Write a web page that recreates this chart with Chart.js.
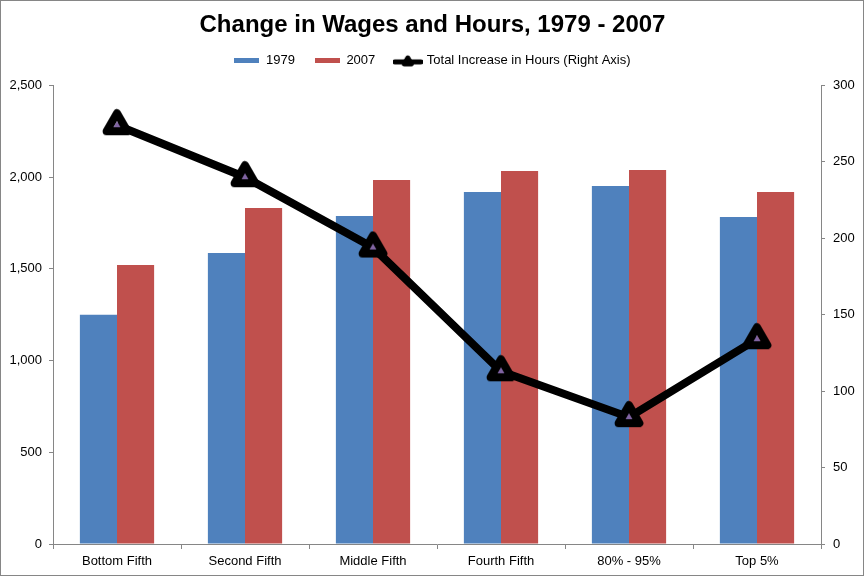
<!DOCTYPE html>
<html>
<head>
<meta charset="utf-8">
<script src="https://cdn.jsdelivr.net/npm/chart.js@4.4.1/dist/chart.umd.min.js"></script>
<style>
  html, body { margin: 0; padding: 0; background: #fff; }
</style>
</head>
<body>
<canvas id="myChart" width="865" height="577"></canvas>
<script>
var categories = ["Bottom Fifth", "Second Fifth", "Middle Fifth", "Fourth Fifth", "80% - 95%", "Top 5%"];
var wages1979 = [1250, 1587, 1788, 1919, 1952, 1783];
var wages2007 = [1521, 1832, 1985, 2034, 2039, 1919];
var hoursIncrease = [274, 240, 194, 113, 83, 134];
var leftTicks = [0, 500, 1000, 1500, 2000, 2500];
var rightTicks = [0, 50, 100, 150, 200, 250, 300];

var font = "'Liberation Sans', Arial, sans-serif";
var axisGray = "#868686";

// small pictures used as point / legend styles
function swatch(color) {
  var c = document.createElement("canvas");
  c.width = 25; c.height = 5;
  var g = c.getContext("2d");
  g.fillStyle = color;
  g.fillRect(0, 0, 25, 5);
  return c;
}
function triangle(size, r, bw, fill) {
  var c = document.createElement("canvas");
  c.width = size; c.height = size;
  var g = c.getContext("2d");
  var cx = size / 2, cy = size / 2;
  g.beginPath();
  for (var i = 0; i < 3; i++) {
    var a = i * 2 * Math.PI / 3;
    var px = cx + Math.sin(a) * r, py = cy - Math.cos(a) * r;
    if (i === 0) g.moveTo(px, py); else g.lineTo(px, py);
  }
  g.closePath();
  g.lineJoin = "round";
  g.lineWidth = bw;
  g.strokeStyle = "#000";
  g.stroke();
  g.fillStyle = fill;
  // inner fill drawn on top so the purple core stays visible
  var k = Math.max(0, (r / 2 - bw / 2)) / (r / 2);
  g.beginPath();
  for (var j = 0; j < 3; j++) {
    var b = j * 2 * Math.PI / 3;
    var qx = cx + Math.sin(b) * r * k, qy = cy - Math.cos(b) * r * k;
    if (j === 0) g.moveTo(qx, qy); else g.lineTo(qx, qy);
  }
  g.closePath();
  g.fill();
  return c;
}
function lineSwatch() {
  var c = document.createElement("canvas");
  c.width = 30; c.height = 14;
  var g = c.getContext("2d");
  g.strokeStyle = "#000";
  g.lineWidth = 5;
  g.lineCap = "round";
  g.beginPath(); g.moveTo(2, 8); g.lineTo(28, 8); g.stroke();
  g.drawImage(triangle(14, 4, 5, "#000"), 8, 1);
  return c;
}
var marker = triangle(34, 12, 8, "#8064A2");
var legendIcons = [swatch("#4F81BD"), swatch("#C0504D"), lineSwatch()];

var frame = {
  id: "frame",
  beforeLayout: function (chart) {
    var lg = chart.legend;
    if (lg && !lg._fixed) {
      var fit = lg.fit;
      lg.fit = function () { fit.call(this); this.height = 51.1; };
      lg._fixed = true;
    }
  },
  afterDraw: function (chart) {
    var g = chart.ctx;
    g.save();
    g.strokeStyle = axisGray;
    g.lineWidth = 1;
    g.strokeRect(0.5, 0.5, chart.width - 2, chart.height - 2);
    g.restore();
  }
};

var chart = document.getElementById("myChart").getContext("2d");
new Chart(chart, {
  type: "bar",
  data: {
    labels: categories,
    datasets: [{
      type: "line",
      label: "Total Increase in Hours (Right Axis)",
      data: hoursIncrease,
      yAxisID: "y2",
      borderColor: "#000",
      borderWidth: 8,
      pointStyle: marker,
      tension: 0,
      order: 0
    }, {
      label: "1979",
      data: wages1979,
      backgroundColor: "#4F81BD",
      yAxisID: "y",
      order: 1
    }, {
      label: "2007",
      data: wages2007,
      backgroundColor: "#C0504D",
      yAxisID: "y",
      order: 1
    }]
  },
  options: {
    responsive: false,
    animation: false,
    layout: { padding: { top: 6, right: 0, left: 0, bottom: 0 } },
    datasets: { bar: { categoryPercentage: 0.58, barPercentage: 1.0 } },
    plugins: {
      title: {
        display: true,
        text: "Change in Wages and Hours, 1979 - 2007",
        color: "#000",
        font: { family: font, size: 24, weight: "bold" },
        padding: { top: 4.6, bottom: -5 }
      },
      legend: {
        display: true,
        labels: {
          usePointStyle: true,
          pointStyleWidth: 25,
          color: "#000",
          font: { family: font, size: 13 },
          padding: 20,
          generateLabels: function (ch) {
            var order = [1, 2, 0];
            return order.map(function (i, k) {
              return {
                text: ch.data.datasets[i].label,
                pointStyle: legendIcons[k],
                datasetIndex: i,
                fontColor: "#000",
                lineWidth: 0,
                hidden: false
              };
            });
          }
        }
      },
      tooltip: { enabled: false }
    },
    scales: {
      x: {
        offset: true,
        afterFit: function (s) { s.height = 33; },
        grid: { drawOnChartArea: false, offset: true, color: axisGray, tickLength: 5 },
        border: { color: axisGray },
        ticks: { color: "#000", font: { family: font, size: 13 }, padding: 5 }
      },
      y: {
        position: "left",
        min: 0, max: 2500,
        afterBuildTicks: function (s) { s.ticks = leftTicks.map(function (v) { return { value: v }; }); },
        afterFit: function (s) { s.width = 53; },
        grid: { drawOnChartArea: false, color: axisGray, tickLength: 4 },
        border: { color: axisGray },
        ticks: {
          color: "#000", font: { family: font, size: 13 }, padding: 7,
          callback: function (v) { return v.toLocaleString("en-US"); }
        }
      },
      y2: {
        position: "right",
        min: 0, max: 300,
        afterBuildTicks: function (s) { s.ticks = rightTicks.map(function (v) { return { value: v }; }); },
        afterFit: function (s) { s.width = 44; },
        grid: { drawOnChartArea: false, color: axisGray, tickLength: 4 },
        border: { color: axisGray },
        ticks: { color: "#000", font: { family: font, size: 13 }, padding: 8 }
      }
    }
  },
  plugins: [frame]
});
</script>
</body>
</html>
